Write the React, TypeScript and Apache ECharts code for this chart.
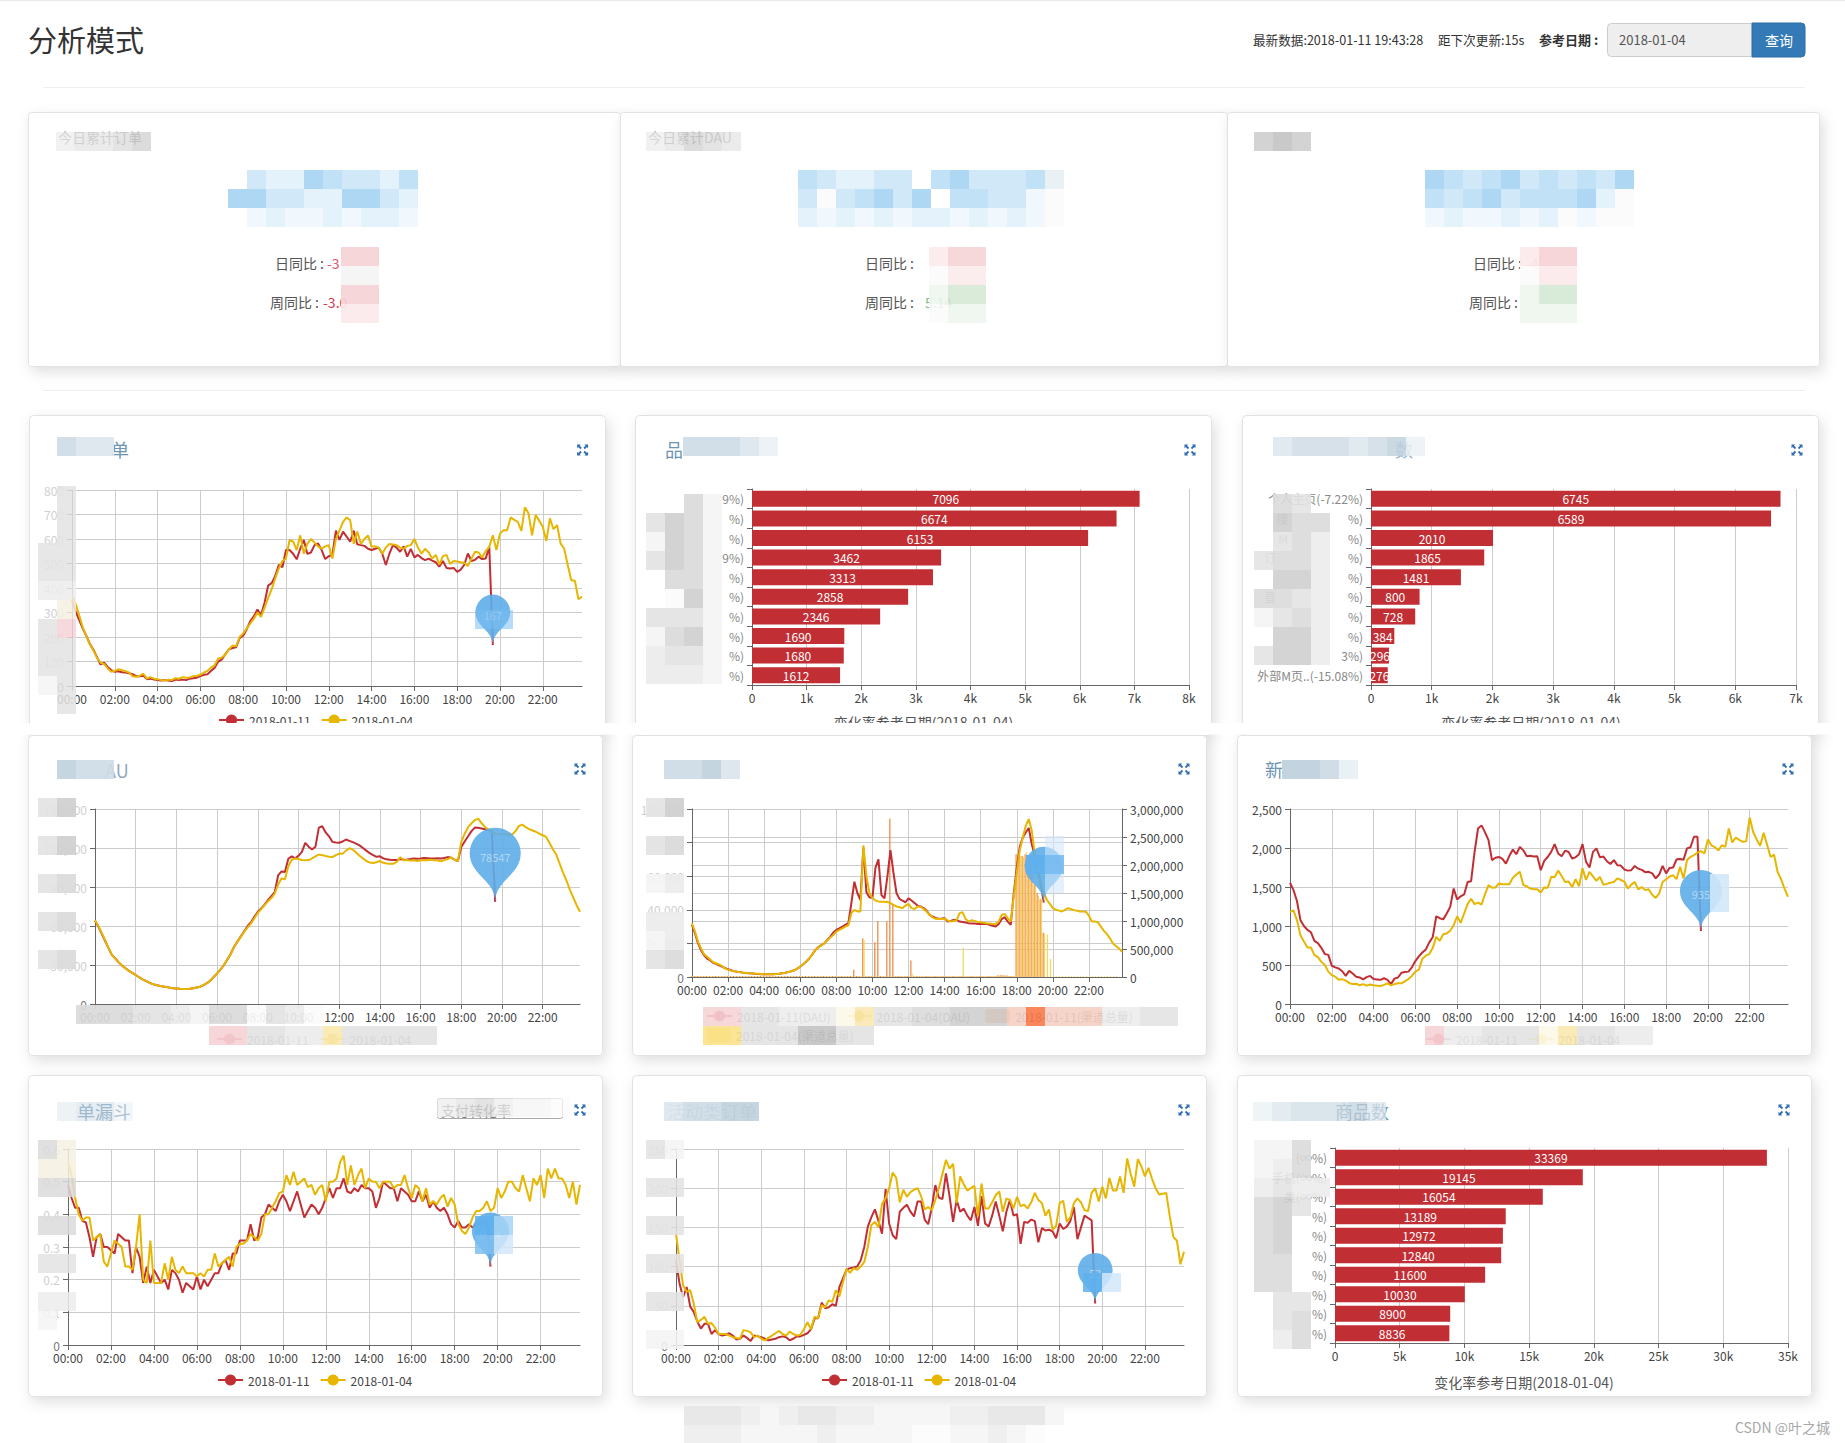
import React, { useEffect, useRef } from "react";
import * as echarts from "echarts";

const FONT = '"Noto Sans CJK SC", "Noto Sans", sans-serif';
const RED = "#c12e34";
const YEL = "#e6b600";
const PIN = "#5dade8";
const DAY_A = "2018-01-11";
const DAY_B = "2018-01-04";

const times: string[] = [];
for (let h = 0; h < 24; h++) for (let m = 0; m < 60; m += 10) times.push(`${String(h).padStart(2, "0")}:${String(m).padStart(2, "0")}`);

// ---- 订单 (0-800)
const orderA = [350,305,270,235,205,172,148,118,88,95,78,65,58,60,56,55,52,48,40,40,42,28,30,26,24,22,24,22,20,26,24,26,24,30,32,34,40,46,48,62,74,100,108,130,150,155,158,195,205,232,265,285,312,290,340,410,420,450,495,485,555,555,540,517,560,596,539,545,575,582,555,518,530,534,634,596,630,610,589,634,578,575,572,560,555,560,565,540,494,540,575,565,548,570,528,560,525,535,522,514,520,512,505,487,510,482,480,482,466,475,495,541,510,515,528,518,520,568,167];
const orderB = [372,335,290,240,205,170,145,115,95,90,72,58,62,68,65,60,55,40,38,42,50,30,36,30,28,24,22,26,24,32,30,36,34,35,40,42,46,55,62,75,85,112,116,128,150,165,162,200,215,235,255,275,300,282,320,360,395,440,480,510,520,595,590,555,615,540,580,600,585,570,560,570,575,520,600,635,670,688,677,580,630,580,600,615,568,570,565,540,565,580,578,575,565,560,572,575,600,565,540,560,545,520,535,495,530,535,498,510,508,505,503,490,520,548,545,525,550,568,615,555,622,636,636,688,678,670,633,730,705,615,698,675,650,592,684,640,657,582,560,494,432,430,354,365];

// ---- DAU (0-150000)
const dauA = [64000,59500,54000,48500,43000,37600,35000,32000,29500,27500,25500,24000,22300,20600,19000,17800,16500,15300,14600,14000,13500,13000,12600,12200,12000,11700,11500,11500,11700,12100,12700,13300,14600,16000,18000,20800,23600,26400,30000,34000,38500,44000,48000,52000,56000,60000,63000,67000,71000,73500,76500,80000,83000,86000,99000,102000,101500,111700,113600,112000,114000,117000,124000,121000,118800,121000,135700,136700,132000,129000,124700,124200,124000,125000,126500,125500,124500,123400,122000,120000,118000,116000,114500,113200,113600,112000,111400,111000,110800,110700,111500,111000,111200,111500,112000,111800,112000,112300,112200,112000,112000,112200,112000,112300,113000,112500,111000,110000,120800,125000,129000,133000,135700,135500,135000,134500,134000,133000,78547];
const dauB = [64500,60000,54500,49000,43000,37600,35000,32000,29500,27500,25500,24000,22300,20600,19000,17800,16500,15300,14600,14000,13500,13000,12600,12200,12000,11700,11500,11500,11700,12100,12700,13300,14600,16000,18000,20800,23600,26400,30000,34000,38500,44000,48000,51800,55500,59000,62000,66000,70000,73000,76000,79000,81500,85000,92000,96500,96000,106000,111000,112000,111500,110800,110500,110700,112000,113500,115000,114500,113800,113200,113000,114500,115700,115500,118000,119800,118800,116500,114000,112000,110000,108800,108500,109000,110000,108600,108100,107800,107900,109300,113000,110500,110800,110300,110500,110000,110600,110800,110600,110900,110600,110300,109800,110700,111500,112800,111000,110000,124700,131000,136000,139000,141500,142600,139000,136200,134000,132000,131000,131000,130500,130500,130200,130400,133000,137000,138000,136000,134500,133500,132500,131000,129800,128500,124000,119000,115000,108000,101000,95000,88000,82000,76000,70900];

// ---- 渠道 DAU (left 0-100000) and 总量 bars (right 0-3000000)
const chanA = [31000,26000,20000,16000,13000,11000,10000,8500,7800,7000,6200,5300,4600,4000,3500,3100,2900,2600,2400,2300,2100,1900,1800,1700,1700,1600,1600,1700,1800,1900,2200,2500,2900,3400,4000,5000,6200,7600,9200,11000,13400,16000,17700,19000,20000,22000,24000,26500,28000,29000,30000,31000,32000,44000,56700,50000,46000,77000,50500,47500,47000,65000,70000,48800,46800,60000,75500,62000,50000,46500,45400,44500,46800,45500,44000,42500,42000,41000,39500,37000,36000,35200,34700,34800,35000,33000,33400,34000,34000,33000,32800,32500,32000,31800,31800,31600,31600,31500,31600,31000,30500,30000,31500,34500,35600,33000,31000,50000,65000,77500,83000,86000,88700,79000,72000,64000,55000,44300];
const chanB = [32000,27000,21000,17000,13500,12000,10500,8800,8200,7500,6500,5000,4400,3800,3400,3100,2800,2600,2400,2300,2200,2000,1900,1800,1700,1700,1600,1700,1800,1900,2200,2500,2900,3400,4000,5000,6200,7600,9300,11000,13500,16000,17500,18800,20000,21800,23500,25000,27000,28000,29000,30000,30800,38000,40000,39000,39000,78400,60000,50000,47000,45500,45000,44800,44800,44600,44000,43000,42000,41500,41000,42500,43500,41000,40500,42000,41800,40500,39000,37000,35500,34600,34500,34500,34600,33700,33000,33300,33800,38000,38500,34500,33000,33800,33400,32800,32600,32300,32000,31800,31600,31600,33000,37000,37500,35000,33000,48000,62000,75500,83000,90000,94000,87000,73000,62000,54000,50000,46000,43500,41000,40000,39500,39000,40000,41000,40500,39800,39500,39000,39000,38800,36500,33000,33000,32500,30000,27500,25500,23000,20000,18500,17000,15000];
const totalA = [15000,15000,18000,15000,15000,18000,15000,15000,18000,15000,15000,18000,15000,15000,18000,15000,15000,18000,15000,15000,18000,15000,15000,18000,15000,15000,18000,15000,15000,18000,15000,15000,18000,15000,15000,18000,15000,15000,18000,15000,15000,18000,15000,15000,18000,15000,15000,18000,15000,15000,18000,15000,15000,18000,130000,18000,15000,694000,15000,18000,15000,622000,1000000,18000,15000,990000,2830000,1290000,15000,18000,15000,15000,20000,296000,15000,18000,15000,15000,18000,15000,15000,18000,15000,15000,18000,15000,15000,18000,15000,15000,18000,15000,15000,18000,15000,15000,18000,15000,15000,18000,15000,15000,32000,36000,32000,26000,18000,15000,2190000,2190000,2160000,2190000,2080000,1940000,1650000,1500000,1390000,790000];
const totalB = [14000,16000,14000,14000,16000,14000,14000,16000,14000,14000,16000,14000,14000,16000,14000,14000,16000,14000,14000,16000,14000,14000,16000,14000,14000,16000,14000,14000,16000,14000,14000,16000,14000,14000,16000,14000,14000,16000,14000,14000,16000,14000,14000,16000,14000,14000,16000,14000,14000,16000,14000,14000,16000,14000,14000,16000,14000,660000,14000,16000,14000,14000,16000,14000,14000,16000,14000,14000,16000,14000,14000,16000,14000,60000,14000,16000,14000,14000,16000,14000,14000,16000,14000,14000,16000,14000,14000,16000,14000,14000,528000,14000,14000,16000,14000,14000,16000,14000,14000,16000,14000,14000,24000,26000,24000,20000,16000,14000,2200000,2170000,2140000,2230000,2100000,1900000,1650000,1450000,1400000,780000,760000,320000,16000,14000,14000,16000,14000,14000,16000,14000,14000,16000,14000,14000,16000,14000,14000,16000,14000,14000,16000,14000,14000,16000];

// ---- 新 (0-2500)
const newA = [1555,1460,1320,1075,1000,950,920,810,780,720,640,630,490,470,455,420,360,425,390,350,340,315,345,360,320,315,310,330,310,255,325,340,400,410,415,470,550,610,660,700,790,860,1125,1100,1085,1160,1245,1480,1340,1380,1405,1565,1575,1950,2250,2290,2200,2100,1845,1875,1885,1860,1800,1900,1980,1920,2015,1970,1895,1900,1890,1895,1715,1835,1885,1950,2050,1930,1895,1965,1950,1865,1880,1920,2050,1825,1750,1950,1995,1880,1890,1830,1795,1845,1780,1775,1725,1710,1715,1770,1735,1720,1690,1695,1675,1610,1660,1770,1675,1745,1750,1855,1860,1850,1995,2010,2145,2145,935];
const newB = [1180,1200,1075,880,800,725,725,630,600,540,500,415,370,350,310,318,300,270,255,260,240,255,235,250,240,235,230,245,265,240,255,265,265,290,320,360,415,440,580,620,640,720,860,810,895,905,940,1010,1125,1040,1160,1280,1350,1280,1300,1275,1410,1525,1490,1495,1545,1535,1535,1535,1620,1660,1695,1525,1510,1480,1470,1470,1430,1495,1490,1630,1625,1710,1640,1565,1570,1500,1600,1510,1740,1590,1695,1635,1580,1630,1530,1540,1555,1565,1610,1590,1570,1480,1530,1565,1470,1500,1460,1470,1400,1360,1415,1565,1600,1635,1650,1600,1760,1610,1845,1885,1910,1940,1960,1930,2110,2035,2010,1970,2035,2015,2250,2070,2135,2105,2080,2085,2390,2205,2110,2030,2195,2040,1885,1915,1695,1600,1480,1375];

// ---- 转化率 (0-0.6)
const rateA = [.49,.45,.42,.42,.38,.375,.33,.27,.33,.34,.30,.30,.29,.28,.34,.33,.32,.32,.22,.30,.27,.19,.24,.19,.23,.21,.19,.20,.17,.23,.22,.20,.16,.19,.18,.17,.21,.17,.20,.18,.20,.22,.22,.25,.26,.23,.28,.28,.32,.32,.32,.37,.32,.33,.39,.40,.43,.42,.41,.44,.46,.44,.41,.44,.47,.43,.39,.41,.43,.42,.40,.42,.45,.48,.45,.48,.48,.51,.47,.465,.48,.47,.49,.48,.48,.47,.42,.45,.50,.49,.48,.48,.44,.48,.47,.46,.44,.44,.47,.44,.46,.42,.44,.42,.41,.42,.40,.37,.36,.38,.36,.36,.37,.36,.37,.37,.38,.38,.24];
const rateB = [.56,.52,.45,.40,.38,.39,.39,.32,.33,.34,.255,.24,.28,.32,.31,.30,.24,.24,.23,.30,.40,.20,.19,.32,.19,.19,.19,.25,.20,.27,.23,.22,.24,.22,.22,.22,.21,.22,.21,.23,.23,.28,.24,.25,.26,.27,.24,.30,.31,.31,.32,.34,.33,.32,.34,.40,.40,.42,.44,.465,.47,.52,.49,.53,.49,.50,.51,.483,.49,.46,.48,.49,.44,.50,.50,.51,.56,.58,.49,.55,.49,.52,.54,.48,.51,.50,.50,.48,.50,.50,.50,.48,.49,.49,.52,.48,.45,.49,.48,.44,.48,.43,.44,.43,.45,.46,.424,.45,.43,.37,.35,.34,.36,.39,.41,.41,.42,.44,.41,.42,.48,.45,.47,.50,.50,.48,.47,.52,.48,.44,.51,.49,.52,.45,.54,.51,.54,.51,.51,.49,.45,.50,.43,.49];

// ---- 活动类订单 (0-250)
const promoA = [108,78,61,74,49,42,30,21,27,27,14,19,14,12,13,15,12,7,8,12,9,5,12,11,10,8,6,7,8,10,11,10,6,8,11,11,13,15,20,34,34,54,47,48,52,50,74,85,96,98,99,100,108,125,151,163,173,158,142,199,155,140,135,170,175,179,170,164,183,183,160,154,175,204,188,186,219,190,157,185,170,174,165,159,176,152,190,155,151,165,183,165,145,170,185,165,167,129,157,156,160,158,131,149,146,147,145,136,155,148,151,158,176,135,150,165,162,159,53];
const promoB = [142,108,76,68,70,53,29,32,36,27,28,22,14,14,14,12,10,9,8,19,18,16,10,12,8,6,9,12,15,18,14,12,17,14,12,13,20,29,20,36,34,51,48,57,55,70,62,80,97,92,98,96,100,106,125,153,157,150,180,187,200,220,213,182,198,189,195,198,200,190,173,176,172,185,200,218,236,225,231,181,215,205,197,200,203,164,206,174,174,182,191,196,170,187,185,174,189,177,179,174,182,194,185,181,165,173,147,152,181,184,157,163,181,187,182,172,171,194,200,183,202,187,213,197,197,215,194,238,218,202,237,228,215,226,212,200,192,193,194,164,138,133,103,119];

// ---- bar charts
const b1Names = ["9%)", "%)", "%)", "9%)", "%)", "%)", "%)", "%)", "%)", "%)"];
const b1Values = [7096, 6674, 6153, 3462, 3313, 2858, 2346, 1690, 1680, 1612];
const E = "\u2003";
const b2Names = ["个人主页(-7.22%)", `搜${E.repeat(5)}%)`, `M${E.repeat(5)}%)`, `订${E.repeat(6)}%)`, "%)", `直${E.repeat(6)}%)`, "%)", "%)", "3%)", "外部M页..(-15.08%)"];
const b2Values = [6745, 6589, 2010, 1865, 1481, 800, 728, 384, 296, 276];
const b3Names = ["(∞%)", "手机(∞%)", "类(∞%)", "%)", "%)", "%)", "%)", "%)", "%)", "%)"];
const b3Values = [33369, 19145, 16054, 13189, 12972, 12840, 11600, 10030, 8900, 8836];

const PAL: Record<string, string> = {
  "0": "#fbfbfb", "1": "#f4f4f4", "2": "#ececec", "3": "#e3e3e3", "4": "#dadada", "5": "#cfcfcf", "6": "#c4c4c4",
  a: "#e9f0f4", b: "#dbe5ec", c: "#cddbe5", d: "#c0d1dd",
  f: "#f0f8fd", g: "#e1f1fb", h: "#cfe7f8", i: "#bddff5", j: "#a9d5f2",
  k: "#d2e8fa", l: "#a6d3f5", m: "#7cbef0", n: "#5fb0ec",
  p: "#fbe9ea", q: "#f5d3d6", v: "#eef6ee", w: "#d5e8d5",
  x: "#fdf8e8", y: "#f8e8b0", z: "#fbe28a", r: "#f4d0c4", o: "#f9794a", u: "#f5f0e2",
};
function mos(x: number, y: number, rows: string[], opacity = 0.92) {
  const out: any[] = [];
  rows.forEach((row, r) => {
    [...row].forEach((ch, c) => {
      if (!PAL[ch]) return;
      out.push({ type: "rect", z: 100, silent: true, shape: { x: x + c * 19, y: y + r * 19, width: 19, height: 19 }, style: { fill: PAL[ch], opacity } });
    });
  });
  return out;
}
function txt(text: string, x: number, y: number, size: number, fill: string, align = "left", weight = "normal", z = 5) {
  return {
    type: "text", z, silent: true, x, y,
    style: { text, fill, font: `${weight} ${size}px ${FONT}`, align, verticalAlign: "middle", textAlign: align, textVerticalAlign: "middle" },
  };
}
function card(x: number, y: number, w: number, h: number, r = 4) {
  return {
    type: "rect", z: -100, silent: true, shape: { x, y, width: w, height: h, r },
    style: { fill: "#fff", stroke: "#e2e2e2", lineWidth: 1, shadowBlur: 14, shadowColor: "rgba(0,0,0,0.13)", shadowOffsetX: 3, shadowOffsetY: 5 },
  };
}
function hline(x1: number, x2: number, y: number) {
  return { type: "rect", z: -90, silent: true, shape: { x: x1, y, width: x2 - x1, height: 1 }, style: { fill: "#eeeeee" } };
}
function icon(cx: number, cy: number) {
  const c = "#2f6db0";
  const out: any[] = [];
  [[-1, -1], [1, -1], [-1, 1], [1, 1]].forEach(([sx, sy]) => {
    out.push({ type: "line", z: 6, silent: true, shape: { x1: cx + sx * 1.5, y1: cy + sy * 1.5, x2: cx + sx * 4.5, y2: cy + sy * 4.5 }, style: { stroke: c, lineWidth: 1.8 } });
    out.push({ type: "polygon", z: 6, silent: true, shape: { points: [[cx + sx * 5.5, cy + sy * 5.5], [cx + sx * 1.8, cy + sy * 5.5], [cx + sx * 5.5, cy + sy * 1.8]] }, style: { fill: c } });
  });
  return out;
}

const graphics: any[] = [
  { type: "rect", z: -90, silent: true, shape: { x: 0, y: 0, width: 1845, height: 1 }, style: { fill: "#eaeaea" } },
  txt("分析模式", 28, 39, 29, "#333"),
  txt("最新数据:2018-01-11 19:43:28", 1253, 39, 12.6, "#333"),
  txt("距下次更新:15s", 1438, 39, 12.6, "#333"),
  txt("参考日期 :", 1539, 39, 13, "#333", "left", "bold"),
  { type: "rect", z: 1, silent: true, shape: { x: 1607.5, y: 23.5, width: 146, height: 33, r: [4, 0, 0, 4] }, style: { fill: "#eeeeee", stroke: "#cccccc" } },
  txt("2018-01-04", 1619, 39.5, 13, "#555"),
  { type: "rect", z: 1, silent: true, shape: { x: 1752, y: 23, width: 53, height: 34, r: [0, 4, 4, 0] }, style: { fill: "#337ab7", stroke: "#2e6da4" } },
  txt("查询", 1779, 39.5, 14, "#fff", "center", "normal", 2),
  hline(43, 1805, 87),
  hline(43, 1805, 390),

  card(28.5, 112.5, 592, 254, 3),
  card(620.5, 112.5, 607, 254, 3),
  card(1227.5, 112.5, 592, 254, 3),
  txt("今日累计订单", 58, 137, 14, "#9a9a9a"),
  txt("今日累计DAU", 648, 137, 14, "#9a9a9a"),
  txt("日同比 :", 324, 263, 14, "#555", "right"), txt("-3", 327, 263, 14, "#e0556a"),
  txt("周同比 :", 319, 302, 14, "#555", "right"), txt("-3.0", 323, 302, 14, "#d9364f"),
  txt("日同比 :", 914, 263, 14, "#555", "right"),
  txt("周同比 :", 914, 302, 14, "#555", "right"), txt("5.14", 925, 302, 14, "#7cb78a"),
  txt("日同比 :", 1522, 263, 14, "#555", "right"), txt("-4", 1526, 263, 14, "#e0556a"),
  txt("周同比 :", 1518, 302, 14, "#555", "right"),

  card(29.5, 415.5, 576, 320),
  card(635.5, 415.5, 576, 320),
  card(1242.5, 415.5, 576, 320),
  card(28.5, 735.5, 574, 320),
  card(632.5, 735.5, 574, 320),
  card(1237.5, 735.5, 574, 320),
  card(28.5, 1075.5, 574, 321),
  card(632.5, 1075.5, 574, 321),
  card(1237.5, 1075.5, 574, 321),

  txt("单", 120, 449, 18, "#6e94b4", "center"),
  txt("品", 674, 449, 18, "#6e94b4", "center"),
  txt("数", 1404, 449, 18, "#9db7cc", "center"),
  txt("AU", 105, 770, 18, "#8fa9bf"),
  txt("新", 1274, 769, 18, "#6e94b4", "center"),
  txt("单漏斗", 77, 1111, 18, "#6e94b4"),
  txt("活动类订单", 667, 1111, 18, "#8fa9bf"),
  txt("商品数", 1335, 1111, 18, "#6e94b4"),
  { type: "rect", z: 3, silent: true, shape: { x: 437.5, y: 1098.5, width: 125, height: 20, r: 2 }, style: { fill: "#fff", stroke: "#aaaaaa" } },
  txt("支付转化率", 441, 1110, 14, "#777", "left", "normal", 4),
  txt("变化率参考日期(2018-01-04)", 923.5, 721.5, 14, "#555", "center"),
  txt("变化率参考日期(2018-01-04)", 1531, 721.5, 14, "#555", "center"),
  txt("变化率参考日期(2018-01-04)", 1524, 1381.5, 14, "#555", "center"),
  txt("CSDN @叶之城", 1830, 1427, 14, "#a8a8a8", "right", "normal", 120),

  // row 1 is cut off by the page
  { type: "rect", z: 90, silent: true, shape: { x: 0, y: 723, width: 1845, height: 11.5 }, style: { fill: "#fff" } },

  ...[[582.6, 450], [1190, 450], [1797, 450], [580, 769], [1184, 769], [1788, 769], [580, 1110], [1184, 1110], [1784, 1110]].flatMap(([x, y]) => icon(x, y)),

  // masks of the top cards
  ...mos(56, 132, ["23345"], 0.72),
  ...mos(228, 170, [".hggjihhgi", "jjhhggjjhg", ".fgffgfggf"], 0.95),
  ...mos(341, 247, ["qq", "11", "qq", "pp"]),
  ...mos(646, 132, ["23543"], 0.72),
  ...mos(798, 170, ["ihgghh.ijhhhia", "h0hijhj.iihhf0", "gfgfgfggfgfgf0"], 0.95),
  ...mos(929, 247, ["pqq", "0pp", "vww", "0vv"], 0.88),
  ...mos(1254, 132, ["565"]),
  ...mos(1425, 170, ["jihijhihihj", "ihijhiiijg0", "fgffgfg0f00"], 0.95),
  ...mos(1520, 247, ["pqq", "0pp", "vww", "vvv"]),

  // masks of chart titles
  ...mos(57, 437, ["cbb"], 0.9),
  ...mos(683, 437, ["cccba"], 0.88),
  ...mos(1273, 437, ["bcccbcda"], 0.82),
  ...mos(57, 760, ["dcc"], 0.9),
  ...mos(664, 760, ["ccdb"], 0.92),
  ...mos(1282, 760, ["ddca"], 0.95),
  ...mos(57, 1102, ["bcca"], 0.5),
  ...mos(664, 1102, ["bccdd"], 0.9),
  ...mos(1253, 1102, ["abcccdb"], 0.72),
  ...mos(437, 1098, ["2342", "...."], 0.75),
  ...mos(513, 1098, ["110"], 0.75),

  // masks of axis labels
  ...mos(38, 486, [".3", ".3", ".3", "33", "33", "22", ".u", "3q", "33", "33", "13", ".3"], 0.86),
  ...mos(646, 494, ["..41", "3541", "1541", "3541", ".441", ".051", "3331", "1451", "2331", "2221"], 0.92),
  ...mos(1254, 494, [".43.", ".544", ".342", "3442", ".552", "4432", "1342", ".552", "3552", "...."], 0.9),
  ...mos(38, 798, ["35", "..", "35", "..", "34", "..", "34", "..", "34"], 0.92),
  ...mos(76, 1005, ["4443321440320"], 0.92),
  ...mos(209, 1026, ["qq3322y33333"], 0.92),
  ...mos(646, 798, ["35", "..", "34", "..", "12", "..", "22", "12", "34"], 0.92),
  ...mos(703, 1007, ["qq33222xy3344555rorrr2233"], 0.9),
  ...mos(703, 1026, ["zz3336633"], 0.92),
  ...mos(1425, 1026, ["q22333xy3322"], 0.92),
  ...mos(38, 1140, ["4u", "uu", "44", "..", "44", "..", "33", "..", "22", "1"], 0.85),
  ...mos(646, 1140, ["31", "..", "33", "..", "33", "..", "33", "..", "33", "..", "11"], 0.88),
  ...mos(1254, 1140, ["114", "124", "2322", "453", "45", "45", "44", "44", ".33", ".34", ".24"], 0.88),
  ...mos(684, 1406, ["33321233221111223331", "2221111211110011210"], 0.82),

  // masks over the pins
  ...mos(475, 610, ["mm"], 0.55),
  ...mos(1026, 855, ["nm"], 0.95),
  ...mos(1045, 836, ["k"], 0.6),
  ...mos(1045, 874, ["k"], 0.6),
  ...mos(1710, 874, ["k", "k"], 0.9),
  ...mos(475, 1216, ["nl", "mk"], 0.85),
  ...mos(1083, 1273, ["nk"], 0.85),
];

const grids = [
  { left: 72, top: 490, width: 510, height: 196 },
  { left: 752, top: 489, width: 437, height: 196 },
  { left: 1371, top: 489, width: 425, height: 196 },
  { left: 95, top: 809, width: 485, height: 195 },
  { left: 692, top: 809, width: 430, height: 168 },
  { left: 1290, top: 809, width: 498, height: 195 },
  { left: 68, top: 1149, width: 512, height: 196 },
  { left: 676, top: 1149, width: 508, height: 196 },
  { left: 1335, top: 1148, width: 453, height: 195 },
];

const axisText = { fontSize: 12, color: "#444", fontFamily: FONT };
const faintText = { ...axisText, color: (v: any) => (Number(v) === 0 ? "#777" : "#cfcfcf") };
const axisLine = { lineStyle: { color: "#666" } };
const split = { lineStyle: { color: "#cccccc", width: 1 } };

function timeAxis(gridIndex: number) {
  return {
    type: "category", gridIndex, data: times, boundaryGap: false,
    axisLine, axisTick: { interval: 11, lineStyle: { color: "#666" } },
    axisLabel: { ...axisText, interval: 11, margin: 6 },
    splitLine: { show: true, interval: 11, ...split },
  };
}
function valueY(gridIndex: number, max: number, interval: number, faint = false) {
  return { type: "value", gridIndex, min: 0, max, interval, axisLine: { show: true, ...axisLine }, axisTick: { show: true, lineStyle: { color: "#666" } }, axisLabel: faint ? faintText : axisText, splitLine: { show: true, ...split } };
}
function kAxis(gridIndex: number, max: number, interval: number) {
  return {
    type: "value", gridIndex, min: 0, max, interval,
    axisLine: { show: true, ...axisLine }, axisTick: { show: true, lineStyle: { color: "#666" } },
    axisLabel: { ...axisText, margin: 6, formatter: (v: number) => (v === 0 ? "0" : `${v / 1000}k`) },
    splitLine: { show: true, ...split },
  };
}
function catY(gridIndex: number, data: string[]) {
  return { type: "category", gridIndex, data, inverse: true, axisLine: { show: true, ...axisLine }, axisTick: { show: true, lineStyle: { color: "#666" } }, axisLabel: { ...axisText, color: "#888", interval: 0 }, splitLine: { show: false } };
}
function line(name: string, data: number[], color: string, x: number, y: number, pin?: number) {
  const s: any = {
    type: "line", name, data, xAxisIndex: x, yAxisIndex: y, symbol: "circle", showSymbol: false, symbolSize: 4,
    lineStyle: { color, width: 2 }, itemStyle: { color }, z: 3,
  };
  if (pin) {
    const last = data.length - 1;
    s.markPoint = {
      symbol: "pin", symbolSize: pin, z: 5,
      itemStyle: { color: PIN, opacity: 0.9 },
      label: { color: "rgba(255,255,255,0.55)", fontSize: 11, fontFamily: FONT },
      data: [{ coord: [times[last], data[last]], value: data[last] }],
    };
  }
  return s;
}
function bars(data: number[], x: number, y: number) {
  return {
    type: "bar", data, xAxisIndex: x, yAxisIndex: y, barWidth: 16, itemStyle: { color: RED },
    label: { show: true, position: "inside", color: "#fff", fontSize: 12, fontFamily: FONT },
  };
}
function legend(left: number, top: number, data: string[], itemGap = 10) {
  return { left, top, data, padding: 0, itemGap, itemWidth: 25, itemHeight: 14, textStyle: { fontSize: 12, color: "#444", fontFamily: FONT } };
}

const CH_A = "2018-01-11(DAU)", CH_B = "2018-01-04(DAU)", TOT_A = "2018-01-11(渠道总量)", TOT_B = "2018-01-04(渠道总量)";

const option: any = {
  animation: false,
  backgroundColor: "#fff",
  textStyle: { fontFamily: FONT },
  grid: grids.map((g) => ({ ...g, containLabel: false, show: false })),
  xAxis: [
    timeAxis(0), kAxis(1, 8000, 1000), kAxis(2, 7000, 1000),
    timeAxis(3), timeAxis(4), timeAxis(5),
    timeAxis(6), timeAxis(7), kAxis(8, 35000, 5000),
  ],
  yAxis: [
    valueY(0, 800, 100, true), catY(1, b1Names), catY(2, b2Names),
    valueY(3, 150000, 30000, true),
    valueY(4, 100000, 20000, true),
    { ...valueY(4, 3000000, 500000), position: "right" },
    valueY(5, 2500, 500),
    valueY(6, 0.6, 0.1, true), valueY(7, 250, 50, true), catY(8, b3Names),
  ],
  legend: [
    legend(218, 714, [DAY_A, DAY_B]),
    legend(216, 1033, [DAY_A, DAY_B]),
    legend(706, 1009, [CH_A, CH_B, TOT_A], 15),
    legend(706, 1028, [TOT_B]),
    legend(1425, 1033, [DAY_A, DAY_B]),
    legend(217, 1374, [DAY_A, DAY_B]),
    legend(821, 1374, [DAY_A, DAY_B]),
  ],
  series: [
    line(DAY_A, orderA, RED, 0, 0, 58), line(DAY_B, orderB, YEL, 0, 0),
    bars(b1Values, 1, 1), bars(b2Values, 2, 2),
    line(DAY_A, dauA, RED, 3, 3, 85), line(DAY_B, dauB, YEL, 3, 3),
    { type: "bar", name: TOT_A, data: totalA, xAxisIndex: 4, yAxisIndex: 5, barGap: "0%", barCategoryGap: "15%", itemStyle: { color: "#ee8a45" } },
    { type: "bar", name: TOT_B, data: totalB, xAxisIndex: 4, yAxisIndex: 5, barGap: "0%", barCategoryGap: "15%", itemStyle: { color: "#f7d65e" } },
    line(CH_A, chanA, RED, 4, 4, 64), line(CH_B, chanB, YEL, 4, 4),
    line(DAY_A, newA, RED, 5, 6, 70), line(DAY_B, newB, YEL, 5, 6),
    line(DAY_A, rateA, RED, 6, 7, 62), line(DAY_B, rateB, YEL, 6, 7),
    line(DAY_A, promoA, RED, 7, 8, 58), line(DAY_B, promoB, YEL, 7, 8),
    bars(b3Values, 8, 9),
  ],
  graphic: { elements: graphics },
};

export default function App() {
  const ref = useRef<HTMLDivElement>(null);
  useEffect(() => {
    const chart = echarts.init(ref.current!, undefined, { renderer: "svg" });
    chart.setOption(option);
    return () => chart.dispose();
  }, []);
  return <div ref={ref} style={{ position: "absolute", left: 0, top: 0, width: 1845, height: 1443 }} />;
}
